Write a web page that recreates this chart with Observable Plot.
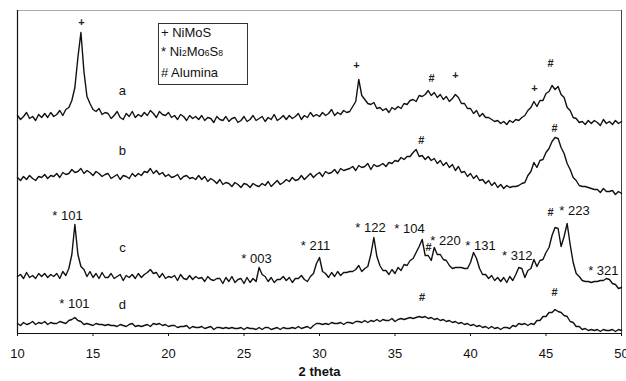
<!DOCTYPE html>
<html>
<head>
<meta charset="utf-8">
<script src="https://cdn.jsdelivr.net/npm/d3@7"></script>
<script src="https://cdn.jsdelivr.net/npm/@observablehq/plot@0.6"></script>
<style>
  body { margin: 0; background: #fff; }
  #wrap { position: relative; width: 626px; height: 381px; font-family: "Liberation Sans", Arial, sans-serif; }
  #legend { position: absolute; left: 158px; top: 23px; width: 86px; height: 60px; border: 1px solid #333; background: #fff;
            font-size: 13px; line-height: 19px; padding-left: 2px; color: #111; }
  #legend div:first-child { margin-top: -1px; }
  #legend .s { font-size: 8.5px; }
</style>
</head>
<body>
<div id="wrap"><div id="legend"><div>+ NiMoS</div><div>* Ni<span class="s">2</span>Mo<span class="s">6</span>S<span class="s">8</span></div><div># Alumina</div></div></div>
<script>
// 2θ sampling grid, 0.2° steps from 10 to 50
const twoTheta = d3.range(201).map(i => +(10 + i * 0.2).toFixed(1));
const traceNames = ["a", "b", "c", "d"];

const traceA = [
  218,214,217,221,215,217,213,219,216,220,
  216,221,217,219,223,218,224,226,233,246,
  276,301,262,237,230,224,222,225,219,221,
  220,215,218,222,216,214,220,217,222,216,
  219,217,221,218,223,220,216,222,219,218,
  221,216,218,214,219,217,213,218,215,217,
  214,218,213,216,215,211,217,214,213,217,
  212,215,216,211,213,217,212,214,218,213,
  215,217,212,216,214,219,213,215,218,214,
  218,215,217,220,214,218,216,221,217,219,
  217,221,218,220,224,218,221,219,223,221,
  222,227,232,254,238,234,230,229,231,225,
  226,223,225,221,226,224,227,225,230,229,
  233,234,232,238,237,239,243,238,241,236,
  239,234,237,232,235,239,236,230,230,225,
  225,220,223,217,220,216,216,214,212,213,
  210,212,209,213,211,214,213,216,218,223,
  226,232,227,233,233,240,242,248,244,247,
  239,236,226,223,216,215,211,212,209,213,
  210,213,211,208,214,210,212,209,213,210,
  212];
const traceB = [
  156,153,157,154,158,155,153,157,156,159,
  155,158,157,160,156,161,159,160,164,161,
  162,165,160,163,161,158,162,160,157,159,
  160,155,157,159,154,158,157,155,160,157,
  160,158,162,161,165,160,163,159,161,157,
  159,156,157,159,154,157,158,155,156,154,
  158,154,157,152,155,153,150,154,149,151,
  150,147,151,149,146,150,149,146,150,148,
  147,150,148,152,147,150,153,149,151,154,
  152,156,153,154,158,154,157,160,156,159,
  161,157,162,160,161,164,160,165,163,164,
  165,167,163,168,166,167,170,164,169,167,
  168,170,167,171,170,173,172,176,174,177,
  177,181,184,177,178,174,177,173,175,170,
  173,168,171,166,169,163,167,161,162,157,
  160,155,158,153,154,150,153,148,151,146,
  149,145,148,146,147,147,148,150,151,158,
  162,171,166,173,174,181,185,192,196,195,
  186,180,170,164,156,153,148,147,147,146,
  145,144,144,141,145,142,142,143,139,142,
  140];
const traceC = [
  57,59,55,61,56,58,55,60,57,60,
  56,59,57,60,55,62,58,65,79,109,
  79,67,64,57,62,56,60,55,61,56,
  56,60,55,57,59,53,58,56,59,55,
  60,56,59,61,64,60,61,56,60,55,
  57,56,58,53,59,55,54,58,54,57,
  55,56,52,57,54,53,55,55,50,56,
  52,57,51,54,55,50,56,51,55,52,
  66,59,57,52,56,51,54,54,57,53,
  56,51,55,55,58,54,52,57,60,70,
  76,62,60,56,61,57,62,58,61,61,
  62,62,64,68,62,65,67,79,96,77,
  68,63,63,59,64,60,66,63,69,68,
  73,75,81,87,94,78,78,73,86,79,
  79,74,73,68,65,66,66,66,65,65,
  71,81,75,65,59,59,55,58,53,56,
  52,56,51,57,53,59,66,65,56,63,
  65,74,67,73,74,81,86,98,106,105,
  87,97,110,89,71,60,57,53,52,52,
  51,52,52,53,53,55,54,50,49,45,
  46];
const traceD = [
  10,8,11,9,10,12,9,11,10,12,
  9,11,10,10,12,11,10,13,14,16,
  13,12,9,10,9,8,10,9,9,8,
  9,8,8,7,9,8,7,9,10,7,
  8,7,8,9,7,10,9,10,8,9,
  7,8,8,6,7,7,8,5,7,6,
  6,7,5,6,7,4,6,6,5,6,
  5,6,5,5,6,4,6,5,5,4,
  6,4,6,6,4,5,6,4,6,5,
  5,6,5,7,5,6,7,5,8,10,
  10,9,10,9,11,10,10,11,9,11,
  11,10,12,12,11,13,11,13,12,14,
  12,14,13,13,15,12,14,15,14,15,
  16,15,16,17,16,17,15,16,14,15,
  13,14,12,13,11,12,10,11,9,10,
  8,9,7,8,6,7,5,7,5,6,
  4,6,6,5,8,7,10,9,10,8,
  10,9,13,13,17,17,21,21,24,22,
  21,18,17,12,11,7,7,4,5,3,
  4,3,4,2,4,3,3,4,2,4,
  3];

// Phase markers (+ NiMoS, # Alumina)
const markerText = ["+","+","#","+","+","#","#","#","#","#","#","#"];
const markerX    = [14.24,32.45,37.42,39.0,44.24,45.3,36.75,45.56,37.22,45.3,36.8,45.56];
const markerY    = [311,268,255,258,245,270,193,205,86,121,36,41];

// Ni2Mo6S8 reflections
const hklText = ["* 101","* 003","* 211","* 122","* 104","* 220","* 131","* 312","* 223","* 321","* 101"];
const hklX    = [13.31,25.83,29.74,33.38,35.96,38.34,40.66,43.1,46.89,48.8,13.77];
const hklY    = [118,75,88,106,105,93,88,78,123,63,30];

// Trace letters
const letterX = 16.95;
const letterY = [243,183,86,29];

const xTicks = [10,15,20,25,30,35,40,45,50];
const xDomain = [10, 50];
const yDomain = [0, 323];

const series = [traceA, traceB, traceC, traceD];
const rows = series.flatMap((s, k) => s.map((v, i) => ({trace: traceNames[k], x: twoTheta[i], y: v})));
const markers = markerText.map((t, i) => ({t, x: markerX[i], y: markerY[i]}));
const hkl = hklText.map((t, i) => ({t, x: hklX[i], y: hklY[i]}));
const letters = traceNames.map((t, i) => ({t, x: letterX, y: letterY[i]}));

const chart = Plot.plot({
  width: 626,
  height: 381,
  marginLeft: 17,
  marginRight: 5,
  marginTop: 10,
  marginBottom: 48,
  style: {fontFamily: "'Liberation Sans', Arial, sans-serif", fontSize: "13px", color: "#111", background: "#fff"},
  x: {domain: xDomain},
  y: {domain: yDomain, axis: null},
  marks: [
    Plot.ruleY([yDomain[1]], {stroke: "#aaa", strokeWidth: 1}),
    Plot.ruleX([xDomain[1]], {stroke: "#444", strokeWidth: 1}),
    Plot.ruleX([xDomain[0]], {stroke: "#111", strokeWidth: 1.2}),
    Plot.ruleY([yDomain[0]], {stroke: "#111", strokeWidth: 1.2}),
    Plot.axisX({ticks: xTicks, tickSize: 3, tickPadding: 12, label: null, fontSize: 13}),
    Plot.line(rows, {x: "x", y: "y", z: "trace", stroke: "#111", strokeWidth: 1.4}),
    Plot.text(markers, {x: "x", y: "y", text: "t", fontSize: 11, fontWeight: "bold", fill: "#222"}),
    Plot.text(hkl, {x: "x", y: "y", text: "t", fontSize: 13, fill: "#111"}),
    Plot.text(letters, {x: "x", y: "y", text: "t", fontSize: 13, fill: "#111"}),
    Plot.text(["2 theta"], {frameAnchor: "bottom", dy: 42, fontSize: 13, fontWeight: "bold", fill: "#111"})
  ]
});
document.getElementById("wrap").prepend(chart);
</script>
</body>
</html>
